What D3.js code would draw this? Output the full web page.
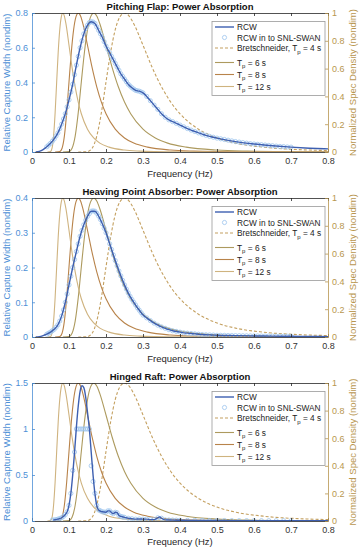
<!DOCTYPE html>
<html><head><meta charset="utf-8">
<script src="https://cdn.jsdelivr.net/npm/d3@7"></script>
<style>
body{margin:0;background:#fff}
svg{display:block}
text{font-family:"Liberation Sans",Arial,Helvetica,sans-serif}
</style>
</head><body>
<svg id="c" width="362" height="550"></svg>
<script>
// ---------------- DATA ----------------
const titles = ["Pitching Flap: Power Absorption", "Heaving Point Absorber: Power Absorption", "Hinged Raft: Power Absorption"];
const freqTicks = [0, 0.1, 0.2, 0.3, 0.4, 0.5, 0.6, 0.7, 0.8];
const flapTicks = [0, 0.2, 0.4, 0.6, 0.8];
const heaveTicks = [0, 0.1, 0.2, 0.3, 0.4];
const raftTicks = [0, 0.5, 1, 1.5];
const specTicks = [0, 0.2, 0.4, 0.6, 0.8, 1];
const legendLabels = ["RCW", "RCW in to SNL-SWAN", "Bretschneider, T", "T", "T", "T"];
const legendSuffix = ["", "", " = 4 s", " = 6 s", " = 8 s", " = 12 s"];

// RCW line, shared frequency grid for flap and heave
const rcwFreq = [0.01,0.02,0.03,0.04,0.05,0.06,0.07,0.08,0.09,0.10,0.11,0.12,0.13,0.14,0.15,0.16,0.17,0.18,0.19,0.20,
  0.21,0.22,0.23,0.24,0.25,0.26,0.27,0.28,0.29,0.30,0.31,0.32,0.33,0.34,0.35,0.36,0.37,0.38,0.39,0.40,
  0.41,0.42,0.43,0.44,0.45,0.46,0.47,0.48,0.49,0.50,0.55,0.60,0.65,0.70,0.75,0.80];
const flapRCW = [0,0.004,0.014,0.03,0.05,0.075,0.11,0.16,0.22,0.30,0.39,0.50,0.60,0.68,0.73,0.75,0.74,0.70,0.66,0.61,
  0.57,0.53,0.49,0.45,0.42,0.39,0.37,0.355,0.35,0.34,0.32,0.295,0.27,0.245,0.22,0.20,0.185,0.175,0.165,0.155,
  0.145,0.135,0.126,0.118,0.11,0.103,0.096,0.09,0.085,0.08,0.06,0.046,0.036,0.028,0.022,0.018];
const heaveRCW = [0,0.001,0.004,0.008,0.014,0.022,0.035,0.06,0.10,0.15,0.20,0.246,0.29,0.323,0.347,0.362,0.362,0.348,0.326,0.30,
  0.268,0.236,0.205,0.176,0.15,0.127,0.108,0.092,0.077,0.063,0.055,0.047,0.04,0.034,0.029,0.025,0.021,0.018,0.016,0.014,
  0.012,0.011,0.010,0.009,0.008,0.007,0.0065,0.006,0.0055,0.005,0.004,0.003,0.0025,0.002,0.0015,0.001];
const raftFreq = [0.057,0.06,0.07,0.08,0.09,0.095,0.10,0.105,0.11,0.115,0.12,0.125,0.13,0.135,0.14,0.145,0.15,0.155,0.16,0.165,
  0.17,0.175,0.18,0.19,0.20,0.205,0.21,0.215,0.22,0.225,0.23,0.235,0.24,0.25,0.26,0.27,0.28,0.29,0.30,0.31,
  0.32,0.33,0.34,0.345,0.35,0.36,0.38,0.40,0.45,0.50,0.60,0.70,0.80];
const raftRCW = [0.01,0.012,0.02,0.035,0.07,0.10,0.17,0.30,0.50,0.75,1.02,1.25,1.41,1.47,1.45,1.35,1.18,1.0,0.75,0.5,
  0.3,0.17,0.12,0.10,0.095,0.11,0.11,0.09,0.08,0.095,0.09,0.06,0.05,0.04,0.03,0.025,0.02,0.022,0.02,0.02,
  0.015,0.015,0.035,0.045,0.03,0.012,0.01,0.008,0.006,0.005,0.004,0.003,0.002];

// SNL-SWAN points
const swanFreq = [0.04,0.045,0.05,0.055,0.06,0.065,0.07,0.075,0.08,0.085,0.09,0.095,0.10,0.105,0.11,0.115,0.12,0.125,0.13,0.135,
  0.14,0.145,0.15,0.155,0.16,0.165,0.17,0.175,0.18,0.185,0.19,0.195,0.20,0.205,0.21,0.215,0.22,0.225,0.23,0.235,
  0.24,0.245,0.25,0.255,0.26,0.265,0.27,0.275,0.28,0.285,0.29,0.295,0.30,
  0.31,0.32,0.33,0.34,0.35,0.36,0.37,0.38,0.39,0.40,0.41,0.42,0.43,0.44,0.45,0.46,0.47,0.48,0.49,0.50,
  0.51,0.52,0.53,0.54,0.55,0.56,0.57,0.58,0.59,0.60,0.61,0.62,0.63,0.64,0.65,0.66,0.67,0.68,0.69,0.70];
const flapSwan = [0.03,0.04,0.05,0.062,0.075,0.092,0.11,0.134,0.16,0.19,0.22,0.26,0.30,0.345,0.39,0.445,0.50,0.55,0.60,0.64,
  0.68,0.71,0.73,0.745,0.75,0.748,0.74,0.72,0.70,0.68,0.66,0.635,0.61,0.59,0.57,0.55,0.53,0.51,0.49,0.47,
  0.45,0.435,0.42,0.405,0.39,0.38,0.37,0.362,0.355,0.352,0.35,0.345,0.34,
  0.32,0.295,0.27,0.245,0.22,0.20,0.185,0.175,0.165,0.155,0.145,0.135,0.126,0.118,0.11,0.103,0.096,0.09,0.085,0.08,
  0.076,0.072,0.068,0.064,0.06,0.057,0.054,0.051,0.048,0.046,0.044,0.042,0.04,0.038,0.036,0.034,0.032,0.031,0.029,0.028];
const heaveSwan = [0.008,0.011,0.014,0.018,0.022,0.028,0.035,0.046,0.06,0.078,0.10,0.124,0.15,0.175,0.20,0.223,0.246,0.268,0.29,0.307,
  0.323,0.336,0.347,0.355,0.362,0.363,0.362,0.356,0.348,0.338,0.326,0.313,0.30,0.284,0.268,0.252,0.236,0.22,0.205,0.19,
  0.176,0.163,0.15,0.138,0.127,0.117,0.108,0.10,0.092,0.084,0.077,0.07,0.063,
  0.055,0.047,0.04,0.034,0.029,0.025,0.021,0.018,0.016,0.014,0.012,0.011,0.010,0.009,0.008,0.007,0.0065,0.006,0.0055,0.005,
  0.0048,0.0046,0.0044,0.0042,0.004,0.0038,0.0036,0.0034,0.0032,0.003,0.0029,0.0028,0.0027,0.0026,0.0025,0.0024,0.0023,0.0022,0.0021,0.002];
const raftSwanFreq = [0.055,0.06,0.065,0.07,0.075,0.08,0.085,0.09,0.095,0.10,0.105,0.11,0.115,0.12,0.125,0.13,0.135,0.14,0.145,0.15,
  0.155,0.16,0.165,0.17,0.175,0.18,0.185,0.19,0.195,0.20,0.205,0.21,0.215,0.22,0.225,0.23,0.235,0.24,0.245,0.25,
  0.26,0.27,0.28,0.29,0.30,0.31,0.32,0.33,0.34,0.35,0.36,0.37,0.38,0.39,0.40,0.42,0.44,0.46,0.48,0.50,
  0.52,0.54,0.56,0.58,0.60,0.62,0.64,0.66,0.68,0.70];
const raftSwan = [0.01,0.012,0.015,0.02,0.027,0.035,0.05,0.07,0.10,0.17,0.30,0.55,0.75,1,1,1,1,1,1,1,
  1,0.6,0.43,0.3,0.17,0.12,0.11,0.10,0.097,0.095,0.11,0.11,0.09,0.08,0.095,0.09,0.06,0.05,0.045,0.04,
  0.03,0.025,0.02,0.022,0.02,0.02,0.015,0.015,0.035,0.03,0.012,0.011,0.01,0.009,0.008,0.007,0.0065,0.006,0.0055,0.005,
  0.0048,0.0045,0.0042,0.004,0.0038,0.0036,0.0034,0.0032,0.003,0.003];

// Normalized spectra (Bretschneider)
const bret4Freq = [0.125,0.15,0.1625,0.175,0.1875,0.2,0.2125,0.225,0.2375,0.25,0.2625,0.275,0.3,0.325,0.35,0.375,0.4,0.45,0.5,0.55,0.625,0.75,0.8];
const bret4 = [0,0.003,0.027,0.114,0.283,0.504,0.718,0.880,0.972,1,0.978,0.923,0.768,0.607,0.469,0.359,0.275,0.164,0.101,0.064,0.035,0.014,0.0103];
const tp6Freq = [0.0833,0.1,0.1083,0.1167,0.125,0.1333,0.1417,0.15,0.1583,0.1667,0.175,0.1833,0.2,0.2167,0.2333,0.25,0.2667,0.3,0.3333,0.3667,0.4167,0.5,0.5833,0.6667,0.8];
const tp6 = [0,0.003,0.027,0.114,0.283,0.504,0.718,0.880,0.972,1,0.978,0.923,0.768,0.607,0.469,0.359,0.275,0.164,0.101,0.064,0.035,0.014,0.0066,0.0034,0.0013];
const tp8Freq = [0.0625,0.075,0.08125,0.0875,0.09375,0.1,0.10625,0.1125,0.11875,0.125,0.13125,0.1375,0.15,0.1625,0.175,0.1875,0.2,0.225,0.25,0.275,0.3125,0.375,0.4375,0.5,0.625,0.75,0.8];
const tp8 = [0,0.003,0.027,0.114,0.283,0.504,0.718,0.880,0.972,1,0.978,0.923,0.768,0.607,0.469,0.359,0.275,0.164,0.101,0.064,0.035,0.014,0.0066,0.0034,0.0011,0.00045,0.0003];
const tp12Freq = [0.0417,0.05,0.0542,0.0583,0.0625,0.0667,0.0708,0.075,0.0792,0.0833,0.0875,0.0917,0.1,0.1083,0.1167,0.125,0.1333,0.15,0.1667,0.1833,0.2083,0.25,0.2917,0.3333,0.4167,0.5,0.5833,0.6667,0.8];
const tp12 = [0,0.003,0.027,0.114,0.283,0.504,0.718,0.880,0.972,1,0.978,0.923,0.768,0.607,0.469,0.359,0.275,0.164,0.101,0.064,0.035,0.014,0.0066,0.0034,0.0011,0.00045,0.0002,0.0001,0.00004];

// ---------------- DRAW ----------------
const C = {
  blue: "#4d8fd6", rcw: "#3d5fb0", swan: "#9cc4ee", tan: "#b8964f", gray: "#262626",
  bret: "#c4a060", tp6: "#ad9a5e", tp8: "#b8834a", tp12: "#cfb37f", legendEdge: "#9a9a9a"
};
const panels = [
  {title: titles[0], yMax: 0.8, yTicks: flapTicks, lf: rcwFreq, lv: flapRCW, sf: swanFreq, sv: flapSwan, top: 13, h: 139, xPad: 6, xlOff: 21},
  {title: titles[1], yMax: 0.4, yTicks: heaveTicks, lf: rcwFreq, lv: heaveRCW, sf: swanFreq, sv: heaveSwan, top: 198, h: 139, xPad: 6, xlOff: 21},
  {title: titles[2], yMax: 1.5, yTicks: raftTicks, lf: raftFreq, lv: raftRCW, sf: raftSwanFreq, sv: raftSwan, top: 383, h: 138, xPad: 5.5, xlOff: 20.5}
];
const spectra = [
  {f: bret4Freq, v: bret4, color: C.bret, dash: "3,2"},
  {f: tp6Freq, v: tp6, color: C.tp6, dash: null},
  {f: tp8Freq, v: tp8, color: C.tp8, dash: null},
  {f: tp12Freq, v: tp12, color: C.tp12, dash: null}
];
const svg = d3.select("#c");
const L = 32, R = 328;
const x = d3.scaleLinear().domain([0, 0.8]).range([L, R]);
const fmt = d => String(d);

panels.forEach((p, i) => {
  const top = p.top, H = p.h, bottom = top + H;
  const y = d3.scaleLinear().domain([0, p.yMax]).range([bottom, top]);
  const y2 = d3.scaleLinear().domain([0, 1]).range([bottom, top]);
  const g = svg.append("g");
  const cid = "clip" + i;
  g.append("clipPath").attr("id", cid).append("rect")
    .attr("x", L).attr("y", top).attr("width", R - L).attr("height", H);
  const plot = g.append("g").attr("clip-path", `url(#${cid})`);

  // spectra (right axis)
  spectra.forEach(s => {
    const line = d3.line().x((d, k) => x(s.f[k])).y(d => y2(d)).curve(d3.curveMonotoneX);
    plot.append("path").attr("d", line(s.v)).attr("fill", "none")
      .attr("stroke", s.color).attr("stroke-width", 1.1)
      .attr("stroke-dasharray", s.dash);
  });
  // SWAN circles
  plot.append("g").selectAll("circle").data(p.sv).join("circle")
    .attr("cx", (d, k) => x(p.sf[k])).attr("cy", d => y(d)).attr("r", 2.1)
    .attr("fill", "none").attr("stroke", C.swan).attr("stroke-width", 0.8);
  // RCW line
  const rl = d3.line().x((d, k) => x(p.lf[k])).y(d => y(d)).curve(d3.curveMonotoneX);
  plot.append("path").attr("d", rl(p.lv)).attr("fill", "none")
    .attr("stroke", C.rcw).attr("stroke-width", 1.4);

  // axes
  const styleAxis = (sel, color) => {
    sel.selectAll("path.domain").attr("stroke", color).attr("stroke-width", 0.8);
    sel.selectAll(".tick line").attr("stroke", color).attr("stroke-width", 0.8);
    sel.selectAll(".tick text").attr("fill", color).attr("font-size", 9)
      .attr("font-family", '"Liberation Sans",Arial,sans-serif');
  };
  const xb = g.append("g").attr("transform", `translate(0,${bottom})`)
    .call(d3.axisBottom(x).tickValues(freqTicks).tickFormat(fmt).tickSizeInner(-3).tickSizeOuter(0).tickPadding(p.xPad));
  styleAxis(xb, C.gray);
  xb.selectAll(".tick text").attr("fill", "#333");
  const xt = g.append("g").attr("transform", `translate(0,${top})`)
    .call(d3.axisTop(x).tickValues(freqTicks).tickFormat("").tickSizeInner(-3).tickSizeOuter(0));
  styleAxis(xt, C.gray);
  const yl = g.append("g").attr("transform", `translate(${L},0)`)
    .call(d3.axisLeft(y).tickValues(p.yTicks).tickFormat(fmt).tickSizeInner(-3).tickSizeOuter(0).tickPadding(4));
  styleAxis(yl, C.blue);
  const yr = g.append("g").attr("transform", `translate(${R},0)`)
    .call(d3.axisRight(y2).tickValues(specTicks).tickFormat(fmt).tickSizeInner(-3).tickSizeOuter(0).tickPadding(4));
  styleAxis(yr, C.tan);

  // labels
  g.append("text").attr("x", (L + R) / 2).attr("y", top - 3).attr("text-anchor", "middle")
    .attr("font-size", 9.5).attr("font-weight", "bold").attr("fill", "#111").text(p.title);
  g.append("text").attr("x", (L + R) / 2).attr("y", bottom + p.xlOff + 3.5).attr("text-anchor", "middle")
    .attr("font-size", 9.5).attr("fill", C.gray).text("Frequency (Hz)");
  g.append("text").attr("transform", `translate(${9.5},${(top + bottom) / 2}) rotate(-90)`)
    .attr("text-anchor", "middle").attr("font-size", 9.5).attr("fill", C.blue)
    .text("Relative Capture Width (nondim)");
  g.append("text").attr("transform", `translate(${355.5},${(top + bottom) / 2}) rotate(-90)`)
    .attr("text-anchor", "middle").attr("font-size", 9.5).attr("fill", C.tan)
    .text("Normalized Spec Density (nondim)");

  // legend
  const lt = top + 8.5, lx = 212, lw = 113;
  const rows = [5.5, 16, 26.5, 41, 53, 65];
  const lg = g.append("g");
  lg.append("rect").attr("x", lx).attr("y", lt).attr("width", lw).attr("height", 74)
    .attr("fill", "#fff").attr("stroke", C.legendEdge).attr("stroke-width", 0.8);
  const styles = [
    {type: "line", color: C.rcw, w: 1.4},
    {type: "circle", color: C.swan},
    {type: "line", color: C.bret, w: 1.1, dash: "3,2"},
    {type: "line", color: C.tp6, w: 1.1},
    {type: "line", color: C.tp8, w: 1.1},
    {type: "line", color: C.tp12, w: 1.1}
  ];
  legendLabels.forEach((lab, k) => {
    const ry = lt + rows[k];
    const st = styles[k];
    if (st.type === "line") {
      lg.append("line").attr("x1", lx + 3).attr("x2", lx + 22).attr("y1", ry).attr("y2", ry)
        .attr("stroke", st.color).attr("stroke-width", st.w).attr("stroke-dasharray", st.dash || null);
    } else {
      lg.append("circle").attr("cx", lx + 12.5).attr("cy", ry).attr("r", 2.1)
        .attr("fill", "none").attr("stroke", st.color).attr("stroke-width", 0.8);
    }
    const t = lg.append("text").attr("x", lx + 25).attr("y", ry + 3).attr("font-size", 8.3).attr("fill", "#222");
    t.append("tspan").text(lab);
    if (k >= 2) {
      t.append("tspan").attr("font-size", 6).attr("dy", 2.5).text("p");
      t.append("tspan").attr("dy", -2.5).text(legendSuffix[k]);
    }
  });
});
</script>
</body></html>
